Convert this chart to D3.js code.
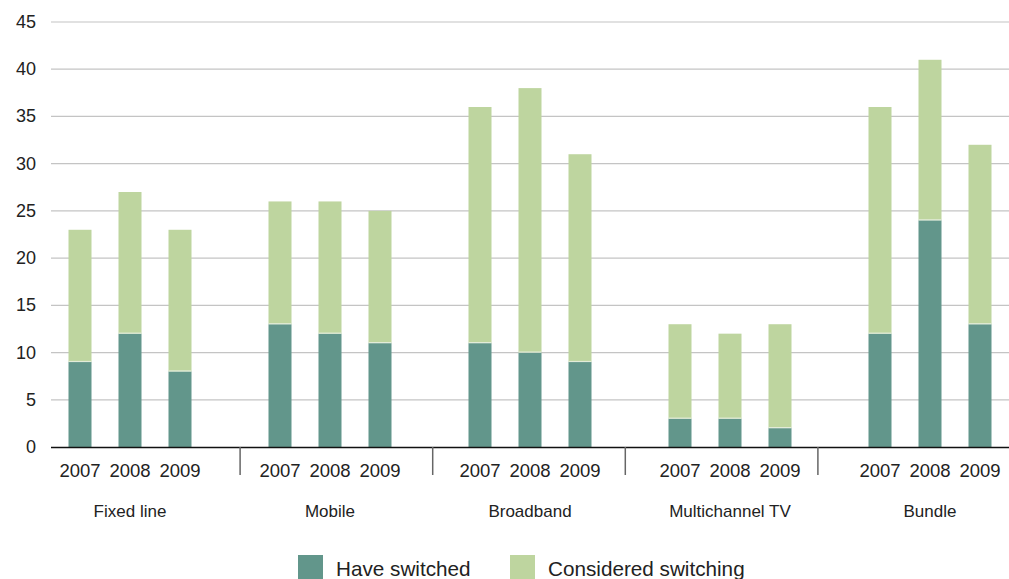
<!DOCTYPE html>
<html><head><meta charset="utf-8">
<script src="https://cdn.jsdelivr.net/npm/d3@7"></script>
<style>body{margin:0;background:#fff}svg{display:block;font-family:"Liberation Sans",Arial,sans-serif}</style>
</head><body><svg id="c" width="1009" height="579"></svg>
<script>
const groups = ["Fixed line","Mobile","Broadband","Multichannel TV","Bundle"];
const years = ["2007","2008","2009"];
const haveSwitched = [[9,12,8],[13,12,11],[11,10,9],[3,3,2],[12,24,13]];
const consideredSwitching = [[14,15,15],[13,14,14],[25,28,22],[10,9,11],[24,17,19]];
const yTicks = [0,5,10,15,20,25,30,35,40,45];
const seriesNames = ["Have switched","Considered switching"];
const colors = ["#62968b","#bed59f"];

const svg = d3.select("#c");
const y = d3.scaleLinear().domain([0,45]).range([447,22]);
const gx = d3.scaleBand().domain(groups).range([47.5,1010.5]);
const slots = [];
groups.forEach((g,gi)=>{ years.forEach(yr=>slots.push(g+"|"+yr)); if(gi<groups.length-1) slots.push("blank"+gi); });
const sx = d3.scaleBand().domain(slots).range([55,1005]).paddingInner(0.54).paddingOuter(0.27);
const bw = sx.bandwidth();

svg.append("g").selectAll("line").data(yTicks.filter(t=>t>0)).join("line")
  .attr("x1",51).attr("x2",1009).attr("y1",d=>y(d)).attr("y2",d=>y(d))
  .attr("stroke","#c4c4c4").attr("stroke-width",1.2);
svg.append("g").selectAll("text").data(yTicks).join("text")
  .attr("x",36).attr("y",d=>y(d)+6).attr("text-anchor","end")
  .attr("font-size",18).attr("fill","#222").text(d=>d);

const data = [];
groups.forEach((g,gi)=>years.forEach((yr,yi)=>{
  data.push({key:g+"|"+yr, h:haveSwitched[gi][yi], c:consideredSwitching[gi][yi]});
}));
const bars = svg.append("g");
bars.selectAll("rect.c").data(data).join("rect")
  .attr("x",d=>sx(d.key)).attr("width",bw)
  .attr("y",d=>y(d.h+d.c)).attr("height",d=>y(d.h)-y(d.h+d.c))
  .attr("fill",colors[1]);
bars.selectAll("rect.h").data(data).join("rect")
  .attr("x",d=>sx(d.key)).attr("width",bw)
  .attr("y",d=>y(d.h)).attr("height",d=>y(0)-y(d.h))
  .attr("fill",colors[0]);
bars.selectAll("line.sep").data(data).join("line")
  .attr("x1",d=>sx(d.key)).attr("x2",d=>sx(d.key)+bw)
  .attr("y1",d=>y(d.h)-0.5).attr("y2",d=>y(d.h)-0.5)
  .attr("stroke","#e2ecd9").attr("stroke-width",1.2);

svg.append("line").attr("x1",51).attr("x2",1009).attr("y1",447.5).attr("y2",447.5)
  .attr("stroke","#111").attr("stroke-width",1.5);
svg.append("g").selectAll("line").data(groups.slice(1)).join("line")
  .attr("x1",d=>gx(d)).attr("x2",d=>gx(d)).attr("y1",447).attr("y2",475)
  .attr("stroke","#666").attr("stroke-width",1.5);
svg.append("g").selectAll("text").data(data).join("text")
  .attr("x",d=>sx(d.key)+bw/2).attr("y",477).attr("text-anchor","middle")
  .attr("font-size",18.5).attr("fill","#222").text(d=>d.key.split("|")[1]);
svg.append("g").selectAll("text").data(groups).join("text")
  .attr("x",g=>sx(g+"|2008")+bw/2).attr("y",517).attr("text-anchor","middle")
  .attr("font-size",17).attr("fill","#222").text(g=>g);

const leg = svg.append("g");
const lx = [298,510];
seriesNames.forEach((n,i)=>{
  leg.append("rect").attr("x",lx[i]).attr("y",555).attr("width",25).attr("height",24).attr("fill",colors[i]);
  leg.append("text").attr("x",lx[i]+38).attr("y",576).attr("font-size",20.7).attr("fill","#222").text(n);
});
</script></body></html>
